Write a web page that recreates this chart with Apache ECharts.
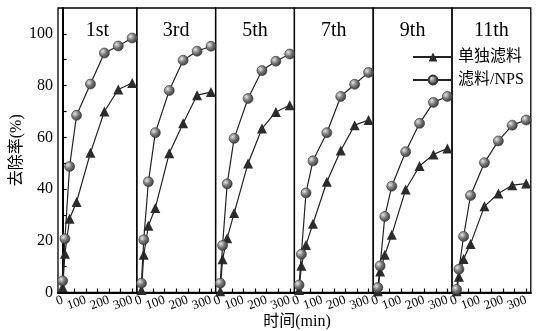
<!DOCTYPE html>
<html>
<head>
<meta charset="utf-8">
<script src="https://cdn.jsdelivr.net/npm/echarts@6/dist/echarts.min.js"></script>
<style>
  html, body { margin: 0; padding: 0; background: #fff; }
  #chart { width: 545px; height: 331px; }
</style>
</head>
<body>
<div id="chart"></div>
<script>
// sampling times (min) and cycle labels
var times = [0, 10, 30, 60, 120, 180, 240, 300];
var runs = ['1st', '3rd', '5th', '7th', '9th', '11th'];
var yLabels = [0, 20, 40, 60, 80, 100];
var xLabels = [0, 100, 200, 300];

// removal rate (%) - filter only
var alone1st = [2, 15, 28.5, 35, 54, 70, 78.5, 81];
var alone3rd = [1, 14.6, 25.8, 32.7, 53.8, 65.4, 76.3, 77.5];
var alone5th = [0.5, 12.9, 21, 30.7, 49.9, 63.4, 69.8, 72.4];
var alone7th = [1, 10.3, 18.4, 26.6, 42.8, 54.9, 64.7, 66.7];
var alone9th = [0.5, 8.1, 14.6, 22.3, 39.8, 48.9, 53.4, 55.7];
var alone11th = [0.5, 6.1, 13, 18.8, 33.3, 38.3, 41.5, 42.1];

// removal rate (%) - filter + NPS
var nps1st = [4.5, 20.8, 48.7, 68.5, 80.6, 92.6, 95.3, 98.4];
var nps3rd = [3.6, 20.4, 42.8, 61.8, 78.1, 89.8, 93.3, 95.2];
var nps5th = [3.6, 18.2, 42, 59.6, 75, 85.8, 89.4, 92.2];
var nps7th = [2.9, 14.8, 38.5, 50.9, 61.8, 75.8, 80.5, 85.1];
var nps9th = [1.9, 10.3, 29.4, 41.1, 54.4, 65.4, 73.5, 75.8];
var nps11th = [1.2, 9, 21.7, 37.5, 50.2, 58.6, 64.7, 66.7];

var aloneAll = [alone1st, alone3rd, alone5th, alone7th, alone9th, alone11th];
var npsAll = [nps1st, nps3rd, nps5th, nps7th, nps9th, nps11th];

var serif = '"Liberation Serif", "Noto Sans CJK SC", serif';
var gridLeft = 58, gridW = 78.8, gridTop = 8, gridH = 284.5;

var chart = echarts.init(document.getElementById('chart'));

var grids = [], xAxes = [], yAxes = [], series = [], texts = [];

function pairs(ys) {
    return times.map(function (t, k) { return [t, ys[k]]; });
}

var ballColor = {
    type: 'radial', x: 0.35, y: 0.35, r: 0.75,
    colorStops: [
        { offset: 0, color: '#e6e6e6' },
        { offset: 0.45, color: '#7a7a7a' },
        { offset: 1, color: '#2e2e2e' }
    ]
};

runs.forEach(function (run, i) {
    var left = gridLeft + i * gridW;
    grids.push({
        left: left, top: gridTop, width: gridW, height: gridH,
        show: true, borderColor: '#000', borderWidth: 1.3,
        backgroundColor: 'transparent'
    });
    xAxes.push({
        gridIndex: i, type: 'value', min: -20, max: 320,
        axisLine: { show: true, lineStyle: { color: '#000', width: 2 } },
        axisTick: {
            show: true, inside: true, length: 4,
            customValues: [0, 50, 100, 150, 200, 250, 300],
            lineStyle: { color: '#000', width: 1.2 }
        },
        axisLabel: {
            customValues: xLabels, rotate: 20, margin: 7,
            color: '#000', fontFamily: serif, fontSize: 13
        },
        splitLine: { show: false }
    });
    yAxes.push({
        gridIndex: i, type: 'value', min: 0, max: 110,
        show: i === 0,
        name: i === 0 ? '去除率(%)' : '',
        nameLocation: 'middle', nameGap: 33, nameRotate: 90,
        nameTextStyle: { fontFamily: serif, fontSize: 16, color: '#000' },
        axisLine: { show: true, lineStyle: { color: '#000', width: 2 } },
        axisTick: {
            show: true, inside: true, length: 4,
            customValues: [0, 10, 20, 30, 40, 50, 60, 70, 80, 90, 100],
            lineStyle: { color: '#000', width: 1.2 }
        },
        axisLabel: {
            customValues: yLabels, margin: 5,
            color: '#000', fontFamily: serif, fontSize: 16
        },
        splitLine: { show: false }
    });
    series.push({
        name: '单独滤料', type: 'line', xAxisIndex: i, yAxisIndex: i,
        data: pairs(aloneAll[i]),
        symbol: 'triangle', symbolSize: 10,
        lineStyle: { color: '#222', width: 1.2 },
        itemStyle: { color: '#2b2b2b' },
        z: 3
    });
    series.push({
        name: '滤料/NPS', type: 'line', xAxisIndex: i, yAxisIndex: i,
        data: pairs(npsAll[i]),
        symbol: 'circle', symbolSize: 10,
        lineStyle: { color: '#222', width: 1.2 },
        itemStyle: { color: ballColor, borderColor: '#333', borderWidth: 0.6 },
        z: 4
    });
    texts.push({
        type: 'text', x: left + gridW / 2, y: 21,
        style: { text: run, fontFamily: serif, fontSize: 20, fill: '#000', textAlign: 'center' }
    });
});

texts.push({
    type: 'text', x: 297, y: 314,
    style: { text: '时间(min)', fontFamily: serif, fontSize: 16, fill: '#000', textAlign: 'center' }
});

chart.setOption({
    animation: false,
    backgroundColor: '#fff',
    grid: grids,
    xAxis: xAxes,
    yAxis: yAxes,
    series: series,
    graphic: texts,
    legend: {
        orient: 'vertical', left: 407, top: 44,
        itemWidth: 40, itemHeight: 11, itemGap: 7,
        textStyle: { fontFamily: serif, fontSize: 16, color: '#000' },
        data: ['单独滤料', '滤料/NPS']
    }
});
</script>
</body>
</html>
